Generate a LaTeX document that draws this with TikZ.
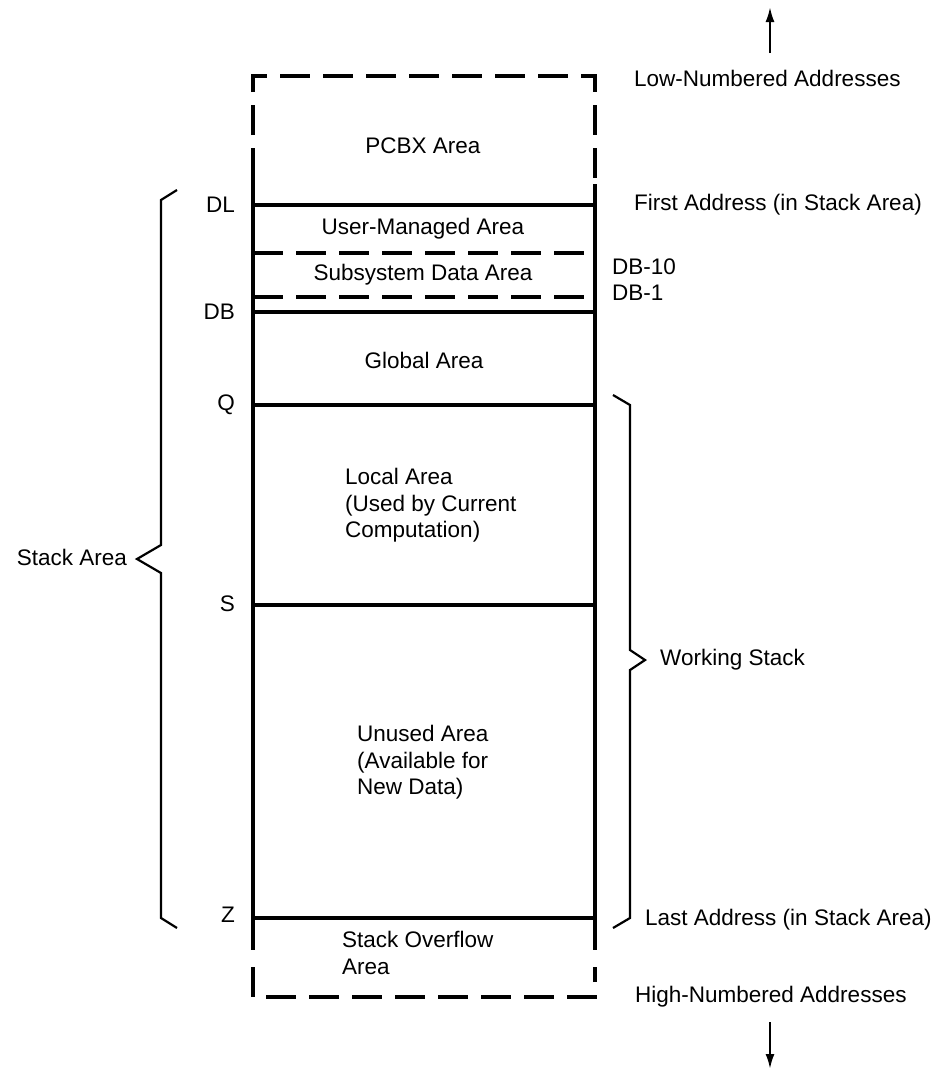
\documentclass[tikz,border=0pt]{standalone}
\usepackage{fontspec}
\setmainfont{Liberation Sans}
\usetikzlibrary{arrows.meta}
\begin{document}
\begin{tikzpicture}[x=1pt,y=-1pt,
  lbl/.style={font=\fontsize{22.5}{26.5}\selectfont, inner sep=0pt},
  boxline/.style={line width=3.6pt},
  dashline/.style={line width=3.6pt, dash pattern=on 30pt off 13pt},
  bracel/.style={line width=2.2pt, line join=miter},
  arr/.style={line width=2.2pt,-{Latex[length=15pt,width=9pt]}}]
\useasboundingbox (0,0) rectangle (951,1071);
% --- coordinates of the box
\coordinate (TL) at (253,76);  \coordinate (TR) at (595,76);
\coordinate (SL) at (253,178); \coordinate (SR) at (595,184);
\coordinate (EL) at (253,950); \coordinate (ER) at (595,950);
\coordinate (BL0) at (253,967); \coordinate (BR0) at (595,967);
\coordinate (BL) at (253,997); \coordinate (BR) at (595,997);
\coordinate (DLl) at (253,205); \coordinate (DLr) at (595,205);
\coordinate (D10l) at (253,253); \coordinate (D10r) at (595,253);
\coordinate (D1l) at (253,297); \coordinate (D1r) at (595,297);
\coordinate (DBl) at (253,312); \coordinate (DBr) at (595,312);
\coordinate (Ql) at (253,405); \coordinate (Qr) at (595,405);
\coordinate (Sl) at (253,605); \coordinate (Sr) at (595,605);
\coordinate (Zl) at (253,918); \coordinate (Zr) at (595,918);
% --- box outline
\draw[dashline] (SL) -- (TL) -- (TR) -- (SR);
\draw[boxline] (SL) -- (EL);
\draw[boxline] (SR) -- (ER);
\draw[dashline] (BL0) -- (BL) -- (BR) -- (BR0);
% --- separators
\draw[boxline] (DLl) -- (DLr);
\draw[dashline] (D10l) -- (D10r);
\draw[dashline] (D1l) -- (D1r);
\draw[boxline] (DBl) -- (DBr);
\draw[boxline] (Ql) -- (Qr);
\draw[boxline] (Sl) -- (Sr);
\draw[boxline] (Zl) -- (Zr);
% --- area texts
\node[lbl] (pcbx) at (423,146) {PCBX Area};
\node[lbl] (user) at (423,229) {User-Managed Area};
\node[lbl] (subs) at (423,275) {Subsystem Data Area};
\node[lbl] (glob) at (424,360) {Global Area};
\node[lbl, anchor=north west, align=left] (local) at (345,468) {Local Area\\(Used by Current\\Computation)};
\node[lbl, anchor=north west, align=left] (unused) at (357,725) {Unused Area\\(Available for\\New Data)};
\node[lbl, anchor=north west, align=left] (ovfl) at (342,931) {Stack Overflow\\Area};
% --- left labels
\node[lbl, anchor=east] (lDL) at (235,205) {DL};
\node[lbl, anchor=east] (lDB) at (235,312) {DB};
\node[lbl, anchor=east] (lQ) at (235,405) {Q};
\node[lbl, anchor=east] (lS) at (235,604) {S};
\node[lbl, anchor=east] (lZ) at (235,915) {Z};
% --- right labels
\node[lbl, anchor=west] (low) at (634,78) {Low-Numbered Addresses};
\node[lbl, anchor=west] (first) at (634,205) {First Address (in Stack Area)};
\node[lbl, anchor=west] (db10) at (612,267) {DB-10};
\node[lbl, anchor=west] (db1) at (612,293) {DB-1};
\node[lbl, anchor=west] (ws) at (660,660) {Working Stack};
\node[lbl, anchor=west] (last) at (645,920) {Last Address (in Stack Area)};
\node[lbl, anchor=west] (high) at (635,997) {High-Numbered Addresses};
\node[lbl, anchor=east] (sa) at (127,557) {Stack Area};
% --- braces
\coordinate (lb1) at (177,190); \coordinate (lb2) at (161,200);
\coordinate (lb3) at (161,545); \coordinate (lbt) at (137,559);
\coordinate (lb4) at (161,573); \coordinate (lb5) at (161,918);
\coordinate (lb6) at (177,928);
\draw[bracel] (lb1) -- (lb2) -- (lb3) -- (lbt) -- (lb4) -- (lb5) -- (lb6);
\coordinate (rb1) at (613,395); \coordinate (rb2) at (630,405);
\coordinate (rb3) at (630,650); \coordinate (rbt) at (645,660);
\coordinate (rb4) at (630,670); \coordinate (rb5) at (630,918);
\coordinate (rb6) at (613,928);
\draw[bracel] (rb1) -- (rb2) -- (rb3) -- (rbt) -- (rb4) -- (rb5) -- (rb6);
% --- arrows
\coordinate (ua0) at (770,53); \coordinate (ua1) at (770,7);
\coordinate (da0) at (770,1022); \coordinate (da1) at (770,1069);
\draw[arr] (ua0) -- (ua1);
\draw[arr] (da0) -- (da1);
\end{tikzpicture}
\end{document}
